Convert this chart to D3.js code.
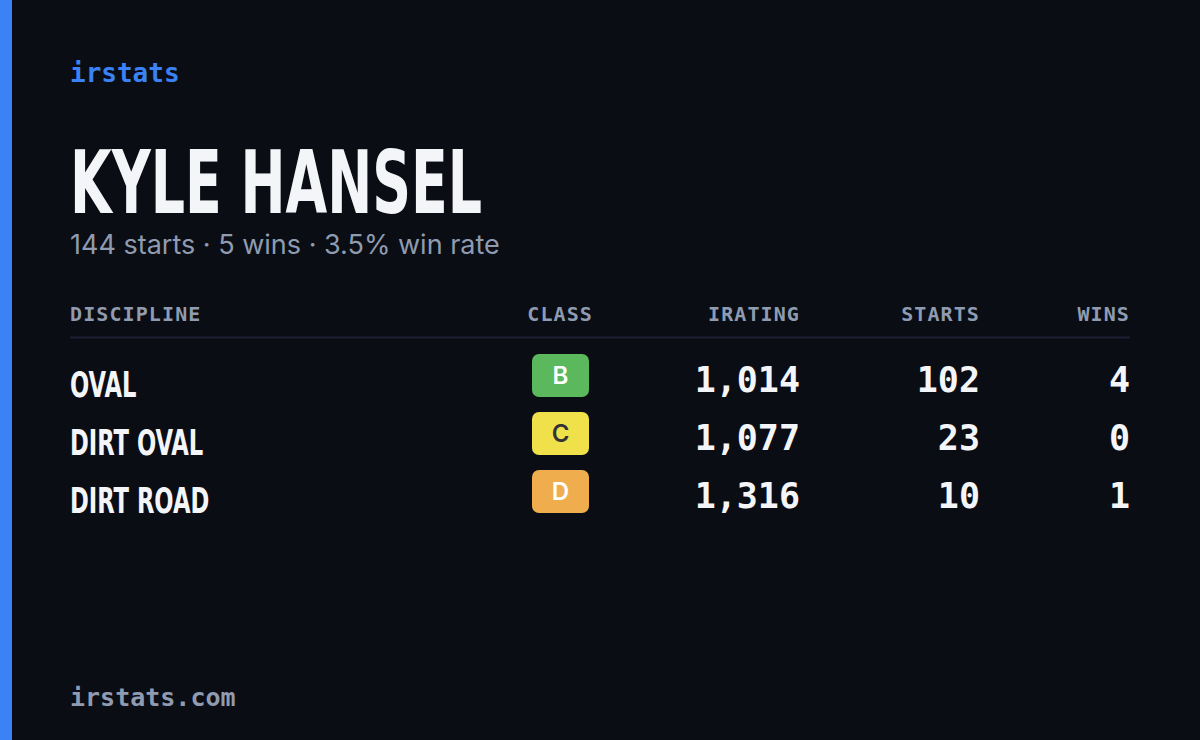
<!DOCTYPE html>
<html>
<head>
<script src="https://cdn.jsdelivr.net/npm/d3@7"></script>
<style>
html, body { margin: 0; background: #0a0d14; }
svg { display: block; }
.mono { font-family: "DejaVu Sans Mono", monospace; }
.cond { font-family: "DejaVu Sans Condensed", "DejaVu Sans", sans-serif; font-weight: bold; }
</style>
</head>
<body>
<script>
// table data
var disciplines = ["OVAL", "DIRT OVAL", "DIRT ROAD"];
var classes = ["B", "C", "D"];
var iratings = [1014, 1077, 1316];
var starts = [102, 23, 10];
var wins = [4, 0, 1];
var headers = ["DISCIPLINE", "CLASS", "IRATING", "STARTS", "WINS"];
var totalStarts = 144, totalWins = 5;
var classColors = {B: "#5cb85c", C: "#f0e14a", D: "#f0ad4e"};
var classText = {B: "#ffffff", C: "#333333", D: "#ffffff"};

var W = 1200, H = 740;
var svg = d3.select("body").append("svg").attr("width", W).attr("height", H);
svg.append("rect").attr("width", W).attr("height", H).attr("fill", "#0a0d14");
svg.append("rect").attr("width", 12).attr("height", H).attr("fill", "#3b82f6");

svg.append("text").attr("class", "mono").attr("x", 70).attr("y", 82)
    .attr("font-size", 26).attr("font-weight", "bold").attr("fill", "#3b82f6").text("irstats");

// condensed text helper: squeeze horizontally
function cond(x, y, size, txt, sx) {
  return svg.append("text").attr("class", "cond")
      .attr("transform", "translate(" + x + "," + y + ") scale(" + sx + ",1)")
      .attr("font-size", size).attr("fill", "#f4f5f8").text(txt);
}
cond(70, 213, 88, "KYLE HANSEL", 0.68);

svg.append("text").attr("x", 70).attr("y", 254)
    .attr("font-family", "Inter, 'Noto Sans', sans-serif").attr("font-size", 27)
    .attr("fill", "#8f9bb0")
    .text(totalStarts + " starts · " + totalWins + " wins · " + d3.format(".1%")(totalWins / totalStarts) + " win rate");

// columns
var colX = [70, 593, 800, 980, 1130];
svg.selectAll(".hdr").data(headers).enter().append("text")
    .attr("class", "mono hdr")
    .attr("x", function(d, i) { return colX[i]; })
    .attr("y", 321).attr("font-size", 20).attr("font-weight", "bold")
    .attr("letter-spacing", 1.1).attr("fill", "#8f9bb0")
    .attr("text-anchor", function(d, i) { return i == 0 ? "start" : "end"; })
    .text(function(d) { return d; });
svg.append("line").attr("x1", 70).attr("x2", 1130).attr("y1", 337.5).attr("y2", 337.5)
    .attr("stroke", "#1c2030").attr("stroke-width", 2);

var y = d3.scaleBand().domain(disciplines).range([354, 513]).paddingInner(0.26);
var fmt = d3.format(",");

disciplines.forEach(function(d, i) {
  var top = y(d);
  cond(70, top + 43, 36, d, 0.7);
  svg.append("rect").attr("x", 532).attr("y", top).attr("width", 57).attr("height", y.bandwidth())
      .attr("rx", 7).attr("fill", classColors[classes[i]]);
  svg.append("text").attr("x", 560.5).attr("y", top + 30).attr("text-anchor", "middle")
      .attr("font-family", "Inter, sans-serif").attr("font-weight", 600).attr("font-size", 24)
      .attr("fill", classText[classes[i]]).text(classes[i]);
  [fmt(iratings[i]), starts[i], wins[i]].forEach(function(v, j) {
    svg.append("text").attr("class", "mono").attr("x", colX[j + 2]).attr("y", top + 38)
        .attr("text-anchor", "end").attr("font-size", 35).attr("font-weight", "bold")
        .attr("fill", "#f4f5f8").text(v);
  });
});

svg.append("text").attr("class", "mono").attr("x", 70).attr("y", 706)
    .attr("font-size", 25).attr("font-weight", "bold").attr("fill", "#8f9bb0").text("irstats.com");
</script>
</body>
</html>
